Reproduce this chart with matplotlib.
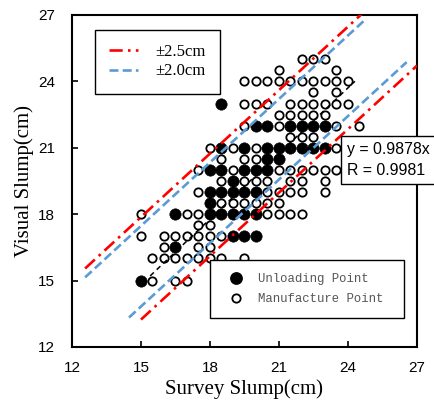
import numpy as np
import matplotlib
matplotlib.use("Agg")
import matplotlib.pyplot as plt
from matplotlib.lines import Line2D

# survey slump (x) values per visual slump row (y)
unloading_rows = {
    23.0: [18.5],
    22.0: [20, 20.5, 21.5, 22, 22.5, 23],
    21.0: [18.5, 19.5, 20.5, 21, 21.5, 22, 22.5, 23],
    20.5: [20.5, 21],
    20.0: [18, 18.5, 19.5, 20, 20.5],
    19.5: [19],
    19.0: [18, 18.5, 19, 19.5, 20],
    18.5: [18],
    18.0: [16.5, 18, 18.5, 19, 19.5, 20],
    17.0: [19, 19.5, 20],
    16.5: [16.5],
    15.0: [15],
}
manufacture_rows = {
    25.0: [22, 22.5, 23],
    24.5: [21, 23.5],
    24.0: [19.5, 20, 20.5, 21, 21.5, 22, 22.5, 23, 23.5, 24],
    23.5: [22.5, 23.5],
    23.0: [19.5, 20, 20.5, 21.5, 22, 22.5, 23, 23.5, 24],
    22.5: [21, 21.5, 22, 22.5, 23],
    22.0: [19.5, 21, 23.5, 24.5],
    21.5: [21.5, 22, 22.5],
    21.0: [18, 19, 20, 23.5],
    20.5: [18.5, 19.5, 20],
    20.0: [17.5, 19, 21, 21.5, 22, 22.5, 23, 23.5],
    19.5: [18.5, 19.5, 20, 20.5, 21.5, 22, 23],
    19.0: [17.5, 20.5, 21, 21.5, 22, 23],
    18.5: [18.5, 19, 19.5, 20, 20.5, 21],
    18.0: [15, 17, 17.5, 20.5, 21, 21.5, 22],
    17.5: [17.5, 18],
    17.0: [15, 16, 16.5, 17, 17.5, 18, 18.5],
    16.5: [16, 17.5, 18],
    16.0: [15.5, 16, 16.5, 17, 17.5, 18, 18.5, 19.5],
    15.0: [15.5, 16.5, 17],
}

fit_slope = 0.9878
fit_r = 0.9981
fit_x = [15.4, 24.3]

# tolerance band lines: slope, intercept, x range
band_slope = 0.956
red_upper = (3.53, [12.57, 24.6])
red_lower = (-1.10, [15.0, 27.0])
blue_upper = (3.13, [12.57, 24.67])
blue_lower = (-0.51, [14.48, 26.55])

ticks = [12, 15, 18, 21, 24, 27]

def flatten(rows):
    xs, ys = [], []
    for y, xlist in rows.items():
        xs += xlist
        ys += [y] * len(xlist)
    return np.array(xs), np.array(ys)

ux, uy = flatten(unloading_rows)
mx, my = flatten(manufacture_rows)

blue = "#5B9BD5"
red = "#FF0000"
serif = "Liberation Serif"
sans = "Liberation Sans"

fig = plt.figure(figsize=(4.35, 4.01), dpi=100)
ax = fig.add_axes([0.1655, 0.1347, 0.7931, 0.8279])

ax.plot(mx, my, "o", ms=6.0, mfc="white", mec="black", mew=1.3, ls="none", zorder=2)
ax.plot(ux, uy, "o", ms=8.2, mfc="black", mec="black", mew=0.4, ls="none", zorder=2)

fx = np.array(fit_x)
ax.plot(fx, fit_slope * fx, color="black", lw=1.1, dashes=(3.3, 2.6), zorder=3)

for (c, xr) in [red_upper, red_lower]:
    xr = np.array(xr)
    ax.plot(xr, band_slope * xr + c, color=red, lw=1.9, dashes=(5.0, 2.0, 1.0, 2.0), zorder=4)
for (c, xr) in [blue_upper, blue_lower]:
    xr = np.array(xr)
    ax.plot(xr, band_slope * xr + c, color=blue, lw=1.9, dashes=(3.4, 1.6), zorder=4)

ax.set_xlim(12, 27)
ax.set_ylim(12, 27)
ax.set_xticks(ticks)
ax.set_yticks(ticks)
ax.tick_params(direction="in", length=4, width=1.2, labelsize=11, pad=10)
ax.tick_params(axis="y", pad=12)
for lab in ax.get_xticklabels() + ax.get_yticklabels():
    lab.set_family(sans)
for s in ax.spines.values():
    s.set_linewidth(1.5)

ax.set_xlabel("Survey Slump(cm)", family=serif, fontsize=15)
ax.set_ylabel("Visual Slump(cm)", family=serif, fontsize=15)
ax.xaxis.set_label_coords(0.5, -0.096)
ax.yaxis.set_label_coords(-0.11, 0.5)

h1 = [Line2D([], [], color=red, lw=1.9, dashes=(5.0, 2.0, 1.0, 2.0)),
      Line2D([], [], color=blue, lw=1.9, dashes=(3.4, 1.6))]
leg1 = ax.legend(h1, ["\u00b12.5cm", "\u00b12.0cm"], loc="upper left",
                 bbox_to_anchor=(0.0667, 0.955), borderaxespad=0,
                 prop={"family": serif, "size": 12}, handlelength=1.75,
                 handletextpad=1.0, borderpad=0.85, labelspacing=0.2,
                 fancybox=False, edgecolor="black", framealpha=1)
leg1.get_frame().set_linewidth(1.0)
ax.add_artist(leg1)

h2 = [Line2D([], [], marker="o", ls="none", ms=8.2, mfc="black", mec="black"),
      Line2D([], [], marker="o", ls="none", ms=6.0, mfc="white", mec="black", mew=1.3)]
leg2 = ax.legend(h2, ["Unloading Point ", "Manufacture Point "], loc="upper left",
                 bbox_to_anchor=(0.4, 0.262), borderaxespad=0,
                 prop={"family": "Liberation Mono", "size": 8.8}, handlelength=2.0,
                 handletextpad=0.85, borderpad=1.1, labelspacing=0.6,
                 fancybox=False, edgecolor="black", framealpha=1)
leg2.get_frame().set_linewidth(1.0)
for t in leg2.get_texts():
    t.set_color("#555555")

ax.text(23.97, 20.45, f"y = {fit_slope}x\nR = {fit_r}", family=sans, fontsize=11.4,
        ha="left", va="center", linespacing=1.5, zorder=6, clip_on=False,
        bbox=dict(boxstyle="square,pad=0.4", fc="white", ec="black", lw=1.0))

fig.savefig("out.png", dpi=100)
